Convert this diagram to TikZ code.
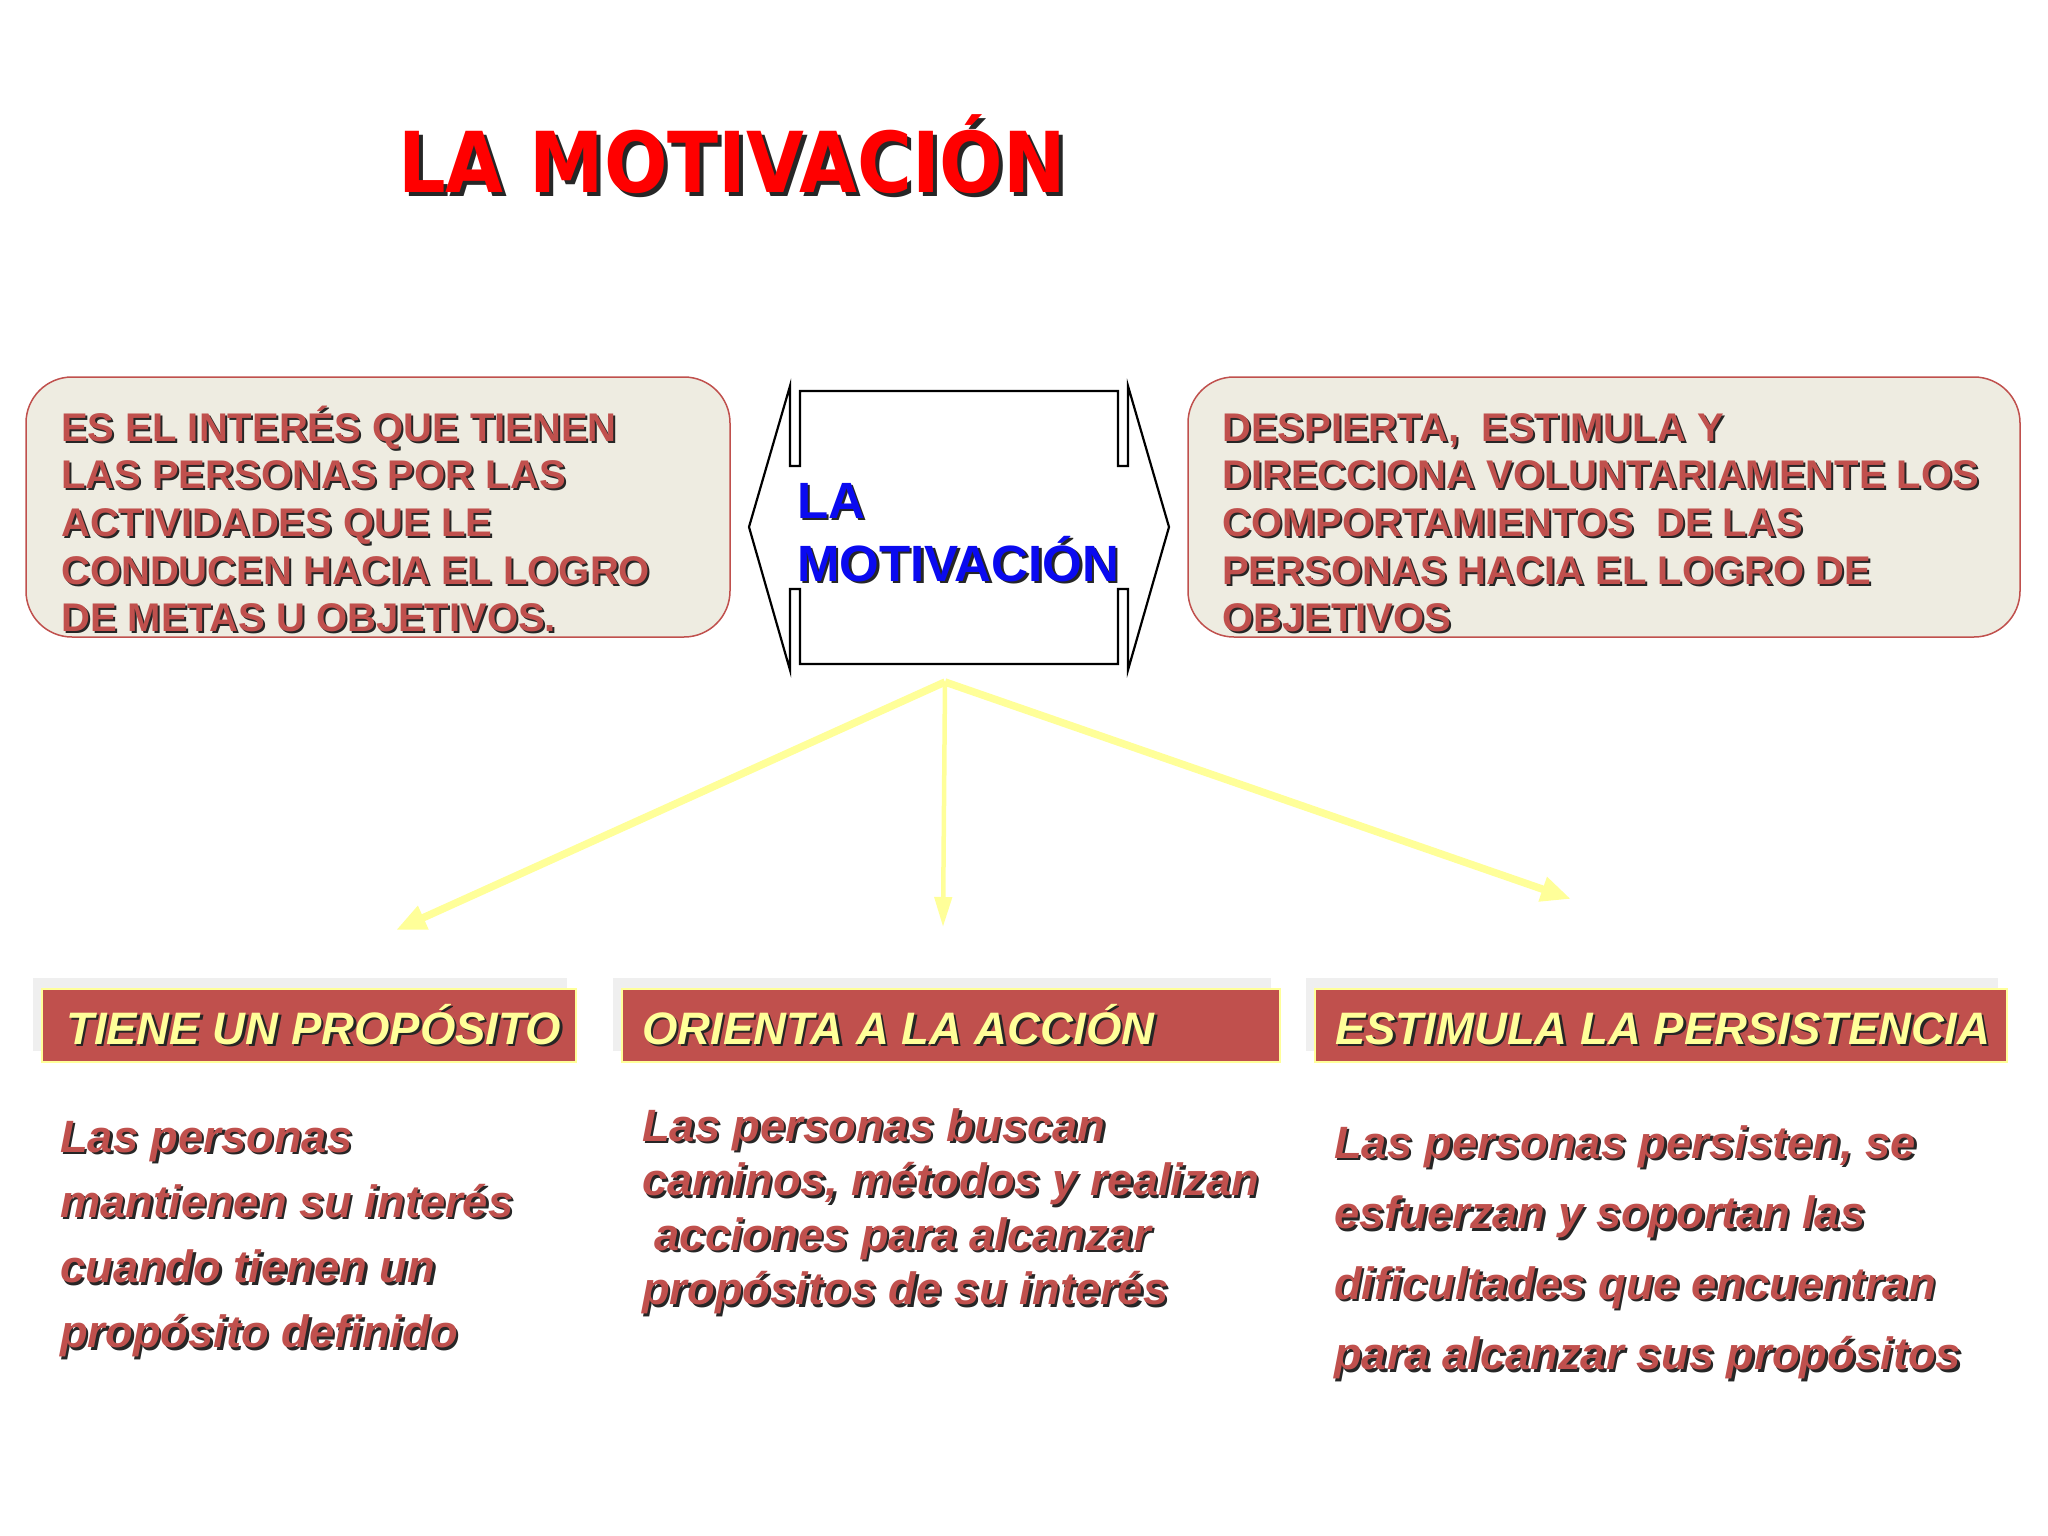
\documentclass[tikz,border=0pt]{standalone}
\usepackage{fontspec}
\setmainfont{Liberation Sans}
\newfontfamily\titlefont[FakeStretch=0.89]{DejaVu Sans}
\usetikzlibrary{arrows.meta}
\definecolor{brick}{HTML}{C0504D}
\definecolor{paleY}{HTML}{FFFF99}
\definecolor{beige}{HTML}{EEECE1}
\definecolor{shade}{HTML}{262626}
\definecolor{ttlred}{HTML}{FF0000}
\definecolor{mblue}{HTML}{0A0AF0}
\definecolor{hshadow}{HTML}{EFEFEF}
\newlength\shoff
\newcommand\sh[2][2pt]{\setlength\shoff{#1}\rlap{\kern\shoff\raisebox{-\shoff}{\color{shade}#2}}#2}
\begin{document}
\begin{tikzpicture}[x=1pt,y=-1pt,
  roundbox/.style={draw=brick, line width=1.5pt, fill=beige, rounded corners=46pt},
  hdrbox/.style={draw=paleY, line width=2pt, fill=brick},
  hdrshadow/.style={fill=hshadow},
  txt/.style={anchor=base west, inner sep=0pt},
  upper/.style={txt, text=brick, font=\bfseries\fontsize{40}{48}\selectfont},
  hdr/.style={txt, text=paleY, font=\bfseries\itshape\fontsize{45.5}{54}\selectfont},
  body/.style={txt, text=brick, font=\bfseries\itshape\fontsize{45.3}{54}\selectfont},
  ray/.style={draw=paleY, -{Triangle[length=30pt,width=24pt]}}
]
\useasboundingbox (0,0) rectangle (2048,1536);
\fill[white] (0,0) rectangle (2048,1536);

% title
\node[txt, text=ttlred, font=\titlefont\bfseries\fontsize{84}{100}\selectfont] (title) at (398,193) {\sh[4pt]{LA MOTIVACIÓN}};

% side boxes
\draw[roundbox] (26,377) rectangle (730,637);
\draw[roundbox] (1188,377) rectangle (2020,637);
\foreach \t [count=\i] in {ES EL INTERÉS QUE TIENEN, LAS PERSONAS POR LAS, ACTIVIDADES QUE LE, CONDUCEN HACIA EL LOGRO, DE METAS U OBJETIVOS.}
  \node[upper] (left-\i) at (61,{441+(\i-1)*47.7}) {\sh{\t}};
\foreach \t [count=\i] in {{DESPIERTA,\ \ ESTIMULA Y}, DIRECCIONA VOLUNTARIAMENTE LOS, {COMPORTAMIENTOS\ \ DE LAS}, PERSONAS HACIA EL LOGRO DE, OBJETIVOS}
  \node[upper] (right-\i) at (1222,{441+(\i-1)*47.7}) {\sh{\t}};

% center shape
\draw[line width=2.2pt, fill=white, line join=miter]
  (800,466) -- (800,391) -- (1118,391) -- (1118,466) -- (1128,466) -- (1128,386)
  -- (1169,527) -- (1128,670) -- (1128,589) -- (1118,589) -- (1118,664)
  -- (800,664) -- (800,589) -- (790,589) -- (790,670) -- (749,527)
  -- (790,386) -- (790,466) -- cycle;
\node[txt, text=mblue, font=\bfseries\fontsize{51}{63}\selectfont] (cl1) at (797,518) {\sh[2.5pt]{LA}};
\node[txt, text=mblue, font=\bfseries\fontsize{51}{63}\selectfont] (cl2) at (797,581) {\sh[2.5pt]{MOTIVACIÓN}};

% arrows
\coordinate (apex) at (945,682);
\coordinate (tipL) at (396,930);
\coordinate (tipM) at (943,927);
\coordinate (tipR) at (1571,899);
\draw[ray, line width=7.5pt] (apex) -- (tipL);
\draw[ray, line width=7.5pt] (apex) -- (tipR);
\draw[draw=paleY, line width=4.5pt, -{Triangle[length=30pt,width=17pt]}] (apex) -- (tipM);

% header boxes
\fill[hdrshadow] (33,978) rectangle (567,1051);
\fill[hdrshadow] (613,978) rectangle (1271,1051);
\fill[hdrshadow] (1306,978) rectangle (1998,1051);
\draw[hdrbox] (42,989) rectangle (576,1062);
\draw[hdrbox] (622,989) rectangle (1280,1062);
\draw[hdrbox] (1315,989) rectangle (2007,1062);
\node[hdr] (h1) at (66,1044) {\sh[2.5pt]{TIENE UN PROPÓSITO}};
\node[hdr] (h2) at (642,1044) {\sh[2.5pt]{ORIENTA A LA ACCIÓN}};
\node[hdr] (h3) at (1335,1044) {\sh[2.5pt]{ESTIMULA LA PERSISTENCIA}};

% body texts
\foreach \t [count=\i] in {Las personas, mantienen su interés, cuando tienen un, propósito definido}
  \node[body] (b1-\i) at (60,{1152+(\i-1)*65.3}) {\sh[2.5pt]{\t}};
\foreach \t [count=\i] in {Las personas buscan, {caminos, métodos y realizan}, {\ acciones para alcanzar}, propósitos de su interés}
  \node[body] (b2-\i) at (642,{1141+(\i-1)*54.5}) {\sh[2.5pt]{\t}};
\foreach \t [count=\i] in {{Las personas persisten, se}, esfuerzan y soportan las, dificultades que encuentran, para alcanzar sus propósitos}
  \node[body] (b3-\i) at (1334,{1158+(\i-1)*70.5}) {\sh[2.5pt]{\t}};
\end{tikzpicture}
\end{document}
